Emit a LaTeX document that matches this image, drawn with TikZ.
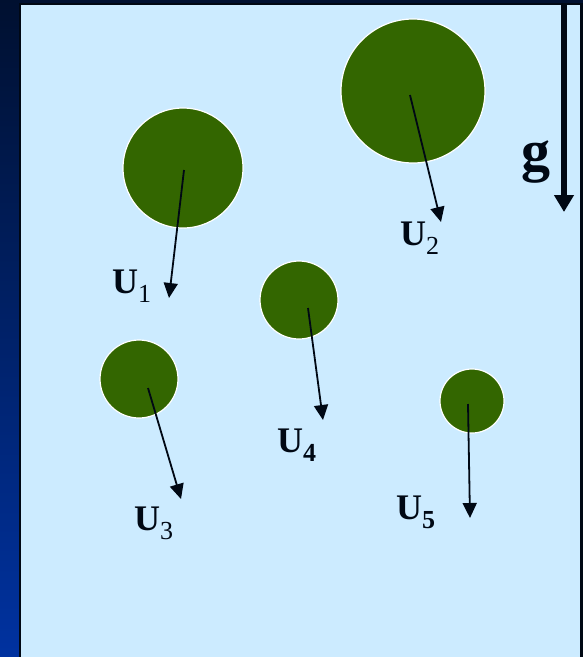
\documentclass[tikz,border=0pt]{standalone}
\usepackage{fontspec}
\setmainfont{Liberation Serif}
\usetikzlibrary{arrows.meta}
\definecolor{panel}{HTML}{CCEBFF}
\definecolor{drop}{HTML}{336600}
\definecolor{navytop}{HTML}{001030}
\definecolor{navybot}{HTML}{0032A0}
\definecolor{ink}{HTML}{000814}
\newcommand{\vsub}[1]{\raisebox{-9pt}{\fontsize{26}{28}\selectfont #1}}
\tikzset{
  bubble/.style={circle, fill=drop, draw=white, line width=1.2pt, inner sep=0pt},
  vel/.style={draw=ink, line width=1.8pt, -{Triangle[width=14pt,length=15pt]}},
  lab/.style={font=\fontsize{36}{38}\selectfont\bfseries, text=ink, inner sep=0pt, anchor=base west},
}
\begin{document}
\begin{tikzpicture}[x=1pt,y=-1pt]
\useasboundingbox (0,0) rectangle (583,657);
\shade[top color=navytop, bottom color=navybot] (0,0) rectangle (583,657);
\fill[ink] (19,3) rectangle (583,657);
\fill[panel] (21,5) rectangle (580,657);
% bubbles
\node[bubble, minimum size=120pt] (b1) at (183,168) {};
\node[bubble, minimum size=144pt] (b2) at (413,91) {};
\node[bubble, minimum size=78pt] (b3) at (139,379) {};
\node[bubble, minimum size=78pt] (b4) at (299,300) {};
\node[bubble, minimum size=64pt] (b5) at (472,401) {};
% arrow tails and heads
\coordinate (t1) at (184,170); \coordinate (h1) at (169,298);
\coordinate (t2) at (410,95);  \coordinate (h2) at (441,222);
\coordinate (t3) at (148,388); \coordinate (h3) at (181,499);
\coordinate (t4) at (308,308); \coordinate (h4) at (323,420);
\coordinate (t5) at (468,404); \coordinate (h5) at (470,518);
\draw[vel] (t1) -- (h1);
\draw[vel] (t2) -- (h2);
\draw[vel] (t3) -- (h3);
\draw[vel] (t4) -- (h4);
\draw[vel] (t5) -- (h5);
% gravity
\coordinate (gt) at (564,5); \coordinate (gh) at (564,212);
\draw[draw=ink, line width=5.5pt, -{Triangle[width=19pt,length=17pt]}] (gt) -- (gh);
\node[font=\fontsize{58}{60}\selectfont\bfseries, text=ink, inner sep=0pt, anchor=base west] (g) at (521,170) {g};
% labels
\node[lab] (u1) at (112,293) {U\vsub{\mdseries 1}};
\node[lab] (u2) at (400,245) {U\vsub{\mdseries 2}};
\node[lab] (u3) at (134,530) {U\vsub{\mdseries 3}};
\node[lab] (u4) at (277,452) {U\vsub{4}};
\node[lab] (u5) at (396,519) {U\vsub{5}};
\end{tikzpicture}
\end{document}
